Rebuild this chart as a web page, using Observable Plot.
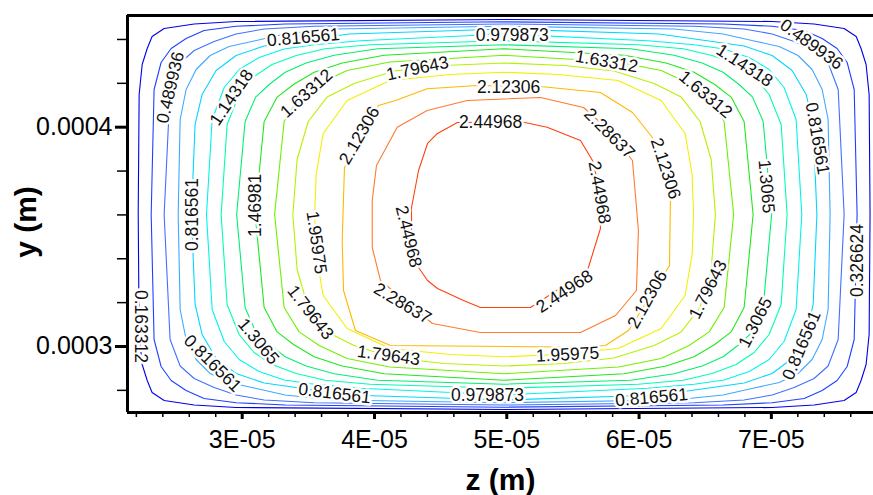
<!DOCTYPE html>
<html><head><meta charset="utf-8">
<script src="https://cdn.jsdelivr.net/npm/d3@7"></script>
<script src="https://cdn.jsdelivr.net/npm/@observablehq/plot@0.6"></script>
<style>
html,body{margin:0;padding:0;background:#fff;overflow:hidden;}
#chart svg{display:block;}
</style></head><body><div id="chart"></div>
<script>
// contour levels and their colours
const levels = [0.163312, 0.326624, 0.489936, 0.653248, 0.816561, 0.979873, 1.14318, 1.3065, 1.46981, 1.63312, 1.79643, 1.95975, 2.12306, 2.28637, 2.44968];
const levelColors = ["#0000e8","#2040ff","#4070ff","#40a8ff","#00d8ff","#00f4ec","#00ffb0","#00f070","#20e820","#70f000","#b8f000","#f0f000","#ffb800","#ff7a30","#ff4010"];

// contour polylines, z and y in micrometres, one closed loop per level
const contourPaths = [
 [[49.80,449.11],[70.06,448.20],[73.23,447.06],[75.50,445.01],[76.41,441.36],[76.78,435.89],[77.16,428.59],[77.39,414.91],[77.46,360.19],[77.39,305.47],[77.16,291.79],[76.78,284.49],[76.41,279.02],[75.50,275.37],[73.23,273.32],[70.06,272.18],[49.80,271.27],[29.54,272.18],[26.37,273.32],[24.10,275.37],[23.19,279.02],[22.82,284.49],[22.44,291.79],[22.21,305.47],[22.14,360.19],[22.21,414.91],[22.44,428.59],[22.82,435.89],[23.19,441.36],[24.10,445.01],[26.37,447.06],[29.54,448.20]],
 [[49.80,448.06],[66.35,447.06],[70.06,446.01],[72.48,444.09],[73.84,440.45],[74.97,435.89],[75.73,429.50],[76.26,417.19],[76.48,360.19],[76.26,303.19],[75.73,290.88],[74.97,284.49],[73.84,279.93],[72.48,276.29],[70.06,274.37],[66.35,273.32],[49.80,272.32],[33.25,273.32],[29.54,274.37],[27.12,276.29],[25.76,279.93],[24.63,284.49],[23.87,290.88],[23.34,303.19],[23.12,360.19],[23.34,417.19],[23.87,429.50],[24.63,435.89],[25.76,440.45],[27.12,444.09],[29.54,446.01],[33.25,447.06]],
 [[49.80,447.06],[64.16,446.01],[67.94,444.78],[70.06,442.50],[71.72,439.08],[73.23,434.97],[74.29,429.27],[75.05,417.19],[75.50,360.19],[75.05,303.19],[74.29,291.11],[73.23,285.41],[71.72,281.30],[70.06,277.88],[67.94,275.60],[64.16,274.37],[49.80,273.32],[35.44,274.37],[31.66,275.60],[29.54,277.88],[27.88,281.30],[26.37,285.41],[25.31,291.11],[24.55,303.19],[24.10,360.19],[24.55,417.19],[25.31,429.27],[26.37,434.97],[27.88,439.08],[29.54,442.50],[31.66,444.78],[35.44,446.01]],
 [[49.80,446.01],[62.65,444.78],[66.35,442.50],[68.70,439.31],[70.59,436.80],[72.02,432.69],[73.08,426.31],[73.84,417.19],[74.29,403.51],[74.44,360.19],[74.29,316.87],[73.84,303.19],[73.08,294.07],[72.02,287.69],[70.59,283.58],[68.70,281.07],[66.35,277.88],[62.65,275.60],[49.80,274.37],[36.95,275.60],[33.25,277.88],[30.90,281.07],[29.01,283.58],[27.58,287.69],[26.52,294.07],[25.76,303.19],[25.31,316.87],[25.16,360.19],[25.31,403.51],[25.76,417.19],[26.52,426.31],[27.58,432.69],[29.01,436.80],[30.90,439.31],[33.25,442.50],[36.95,444.78]],
 [[49.80,444.78],[61.52,442.50],[65.14,439.40],[67.94,437.03],[70.06,432.69],[71.57,425.85],[72.63,414.91],[73.16,401.23],[73.44,360.19],[73.16,319.15],[72.63,305.47],[71.57,294.53],[70.06,287.69],[67.94,283.35],[65.14,280.98],[61.52,277.88],[49.80,275.60],[38.08,277.88],[34.46,280.98],[31.66,283.35],[29.54,287.69],[28.03,294.53],[26.97,305.47],[26.44,319.15],[26.16,360.19],[26.44,401.23],[26.97,414.91],[28.03,425.85],[29.54,432.69],[31.66,437.03],[34.46,439.40],[38.08,442.50]],
 [[49.80,442.50],[60.65,439.40],[64.16,437.57],[66.43,435.66],[68.32,431.78],[69.83,426.31],[70.96,418.10],[71.87,403.51],[72.30,360.19],[71.87,316.87],[70.96,302.28],[69.83,294.07],[68.32,288.60],[66.43,284.72],[64.16,282.81],[60.65,280.98],[49.80,277.88],[38.95,280.98],[35.44,282.81],[33.17,284.72],[31.28,288.60],[29.77,294.07],[28.64,302.28],[27.73,316.87],[27.30,360.19],[27.73,403.51],[28.64,418.10],[29.77,426.31],[31.28,431.78],[33.17,435.66],[35.44,437.57],[38.95,439.40]],
 [[49.80,439.40],[59.93,437.57],[63.33,435.75],[65.52,432.69],[67.34,428.59],[68.70,423.12],[69.83,414.91],[70.74,401.23],[71.19,360.19],[70.74,319.15],[69.83,305.47],[68.70,297.26],[67.34,291.79],[65.52,287.69],[63.33,284.63],[59.93,282.81],[49.80,280.98],[39.67,282.81],[36.27,284.63],[34.08,287.69],[32.26,291.79],[30.90,297.26],[29.77,305.47],[28.86,319.15],[28.41,360.19],[28.86,401.23],[29.77,414.91],[30.90,423.12],[32.26,428.59],[34.08,432.69],[36.27,435.75],[39.67,437.57]],
 [[49.80,437.57],[59.36,435.75],[62.65,432.78],[64.77,429.27],[66.35,425.08],[67.56,419.47],[68.58,413.72],[69.38,402.60],[70.02,360.19],[69.38,317.78],[68.58,306.66],[67.56,300.91],[66.35,295.30],[64.77,291.11],[62.65,287.60],[59.36,284.63],[49.80,282.81],[40.24,284.63],[36.95,287.60],[34.83,291.11],[33.25,295.30],[32.04,300.91],[31.02,306.66],[30.22,317.78],[29.58,360.19],[30.22,402.60],[31.02,413.72],[32.04,419.47],[33.25,425.08],[34.83,429.27],[36.95,432.78],[40.24,435.75]],
 [[49.80,435.75],[58.87,432.78],[62.04,429.27],[64.16,425.08],[65.72,419.47],[66.96,413.72],[67.94,402.60],[68.62,360.19],[67.94,317.78],[66.96,306.66],[65.72,300.91],[64.16,295.30],[62.04,291.11],[58.87,287.60],[49.80,284.63],[40.73,287.60],[37.56,291.11],[35.44,295.30],[33.88,300.91],[32.64,306.66],[31.66,317.78],[30.98,360.19],[31.66,402.60],[32.64,413.72],[33.88,419.47],[35.44,425.08],[37.56,429.27],[40.73,432.78]],
 [[49.80,432.78],[58.45,429.73],[61.67,425.85],[63.78,419.93],[65.30,413.72],[66.43,402.60],[67.15,360.19],[66.43,317.78],[65.30,306.66],[63.78,300.45],[61.67,294.53],[58.45,290.65],[49.80,287.60],[41.15,290.65],[37.93,294.53],[35.82,300.45],[34.30,306.66],[33.17,317.78],[32.45,360.19],[33.17,402.60],[34.30,413.72],[35.82,419.93],[37.93,425.85],[41.15,429.73]],
 [[49.80,429.27],[54.34,428.13],[58.11,425.63],[61.14,419.93],[63.18,413.72],[64.61,402.60],[65.45,385.27],[65.77,360.19],[65.45,335.11],[64.61,317.78],[63.18,306.66],[61.14,300.45],[58.11,294.75],[54.34,292.25],[49.80,291.11],[45.26,292.25],[41.49,294.75],[38.46,300.45],[36.42,306.66],[34.99,317.78],[34.15,335.11],[33.83,360.19],[34.15,385.27],[34.99,402.60],[36.42,413.72],[38.46,419.93],[41.49,425.63],[45.26,428.13]],
 [[49.80,425.08],[53.88,424.03],[58.42,421.29],[61.67,412.17],[63.48,397.13],[64.01,378.43],[64.12,360.19],[64.01,341.95],[63.48,323.25],[61.67,308.21],[58.42,299.09],[53.88,296.35],[49.80,295.30],[45.72,296.35],[41.18,299.09],[37.93,308.21],[36.12,323.25],[35.59,341.95],[35.48,360.19],[35.59,378.43],[36.12,397.13],[37.93,412.17],[41.18,421.29],[45.72,424.03]],
 [[47.76,419.02],[52.55,418.56],[57.08,415.82],[59.50,406.70],[61.01,395.30],[62.37,366.58],[62.30,336.94],[59.20,307.30],[57.46,300.46],[55.57,299.68],[41.21,300.46],[38.56,307.30],[37.66,325.54],[37.56,348.34],[37.73,381.62],[40.30,409.90],[41.59,412.18],[43.98,417.51]],
 [[47.01,412.18],[52.55,413.54],[55.80,408.98],[57.84,398.04],[59.50,384.82],[59.95,352.90],[59.80,325.54],[58.22,314.14],[55.57,306.38],[48.01,306.38],[44.38,310.49],[40.45,330.10],[39.83,345.14],[39.83,366.58],[40.15,382.54],[41.72,400.00],[43.98,407.62]],
 [[46.27,402.14],[51.19,402.37],[53.05,400.00],[55.57,393.94],[56.48,384.82],[57.01,371.14],[57.08,353.81],[56.10,334.66],[51.79,317.78],[48.01,317.78],[46.73,320.98],[44.76,326.45],[44.01,330.10],[43.33,336.02],[42.80,349.70],[42.80,363.38],[43.33,380.26],[44.01,392.57],[44.76,397.13]]
];

// contour labels
const labelText = ["0.816561","0.979873","0.489936","1.14318","1.63312","1.63312","1.79643","2.12306","2.44968","2.12306","1.63312","1.14318","0.489936","0.816561","1.46981","1.95975","2.44968","2.28637","2.44968","2.28637","2.44968","2.12306","2.12306","1.79643","1.3065","1.3065","0.816561","0.326624","0.816561","1.79643","1.79643","1.95975","0.816561","0.979873","0.816561","1.3065","0.816561","0.163312"];
const labelZ = [34.63,50.41,73.03,67.97,65.02,57.54,43.25,50.13,48.77,38.87,34.86,29.19,24.58,26.24,31.01,35.62,42.57,42.12,54.36,57.76,57.01,62.00,60.63,65.21,69.63,68.80,73.48,76.51,72.28,35.16,41.06,54.59,36.98,48.54,60.94,31.23,27.76,22.31];
const labelY = [440.90,441.81,437.71,428.13,414.91,429.96,426.77,418.10,402.14,396.22,415.37,413.54,418.10,360.19,364.30,347.42,350.16,319.61,325.08,397.13,370.22,381.17,321.43,325.99,372.96,310.94,394.85,339.22,300.46,315.50,295.90,296.35,278.57,277.66,276.75,302.28,292.25,309.12];
const labelAngle = [-5,0,36,33,40,10,-12,0,0,-60,-42,-56,-77,-90,-90,82,76,31,-33,45,80,72,-61,-63,85,-63,80,-90,-67,52,8,-3,7,0,-5,50,45,90];

// axes (micrometres) and tick labels
const zDomain = [21.33, 77.72];
const yDomain = [269.9, 450.93];
const zMajor = [30, 40, 50, 60, 70];
const zMajorLabels = ["3E-05", "4E-05", "5E-05", "6E-05", "7E-05"];
const zMinor = [22,24,26,28,32,34,36,38,42,44,46,48,52,54,56,58,62,64,66,68,72,74,76];
const yMajor = [300, 400];
const yMajorLabels = ["0.0003", "0.0004"];
const yMinor = [280,320,340,360,380,420,440];
const zTitle = "z (m)";
const yTitle = "y (m)";

const pts = contourPaths.flatMap((path, i) => path.map(([z, y]) => ({z, y, level: levels[i]})));
const labels = labelText.map((t, i) => ({t, z: labelZ[i], y: labelY[i], a: labelAngle[i]}));
const zLab = new Map(zMajor.map((v, i) => [v, zMajorLabels[i]]));
const yLab = new Map(yMajor.map((v, i) => [v, yMajorLabels[i]]));

const chart = Plot.plot({
  width: 873, height: 495,
  marginLeft: 127, marginRight: 0, marginTop: 15, marginBottom: 83,
  style: {fontFamily: "'Liberation Sans', Arial, sans-serif", background: "#fff"},
  x: {domain: zDomain},
  y: {domain: yDomain},
  color: {type: "ordinal", domain: levels, range: levelColors},
  marks: [
    Plot.line(pts, {x: "z", y: "y", z: "level", stroke: "level", curve: "linear-closed", strokeWidth: 1.1}),
    Plot.text(labels, {x: "z", y: "y", text: "t", rotate: "a", fontSize: 17.5, fill: "#111", stroke: "white", strokeWidth: 5, paintOrder: "stroke"}),
    Plot.ruleX([zDomain[0]], {stroke: "black", strokeWidth: 3}),
    Plot.ruleY(yDomain, {stroke: "black", strokeWidth: 3}),
    Plot.axisX({ticks: zMinor, tickSize: 5, strokeWidth: 1.5, tickFormat: () => "", label: null}),
    Plot.axisX({ticks: zMajor, tickSize: 7, strokeWidth: 3, tickFormat: d => zLab.get(d), fontSize: 25, tickPadding: 11, label: null}),
    Plot.axisY({ticks: yMinor, tickSize: 10, strokeWidth: 1.5, tickFormat: () => "", label: null}),
    Plot.axisY({ticks: yMajor, tickSize: 12, strokeWidth: 3, tickFormat: d => yLab.get(d), fontSize: 25, tickPadding: 3, label: null}),
    Plot.text([zTitle], {frameAnchor: "bottom", dy: 68, text: d => d, textAnchor: "middle", lineAnchor: "middle", fontSize: 30, fontWeight: "bold", fill: "black"}),
    Plot.text([yTitle], {frameAnchor: "left", dx: -101, dy: 8, text: d => d, textAnchor: "middle", lineAnchor: "middle", rotate: -90, fontSize: 30, fontWeight: "bold", fill: "black"})
  ]
});
document.getElementById("chart").appendChild(chart);
</script></body></html>
